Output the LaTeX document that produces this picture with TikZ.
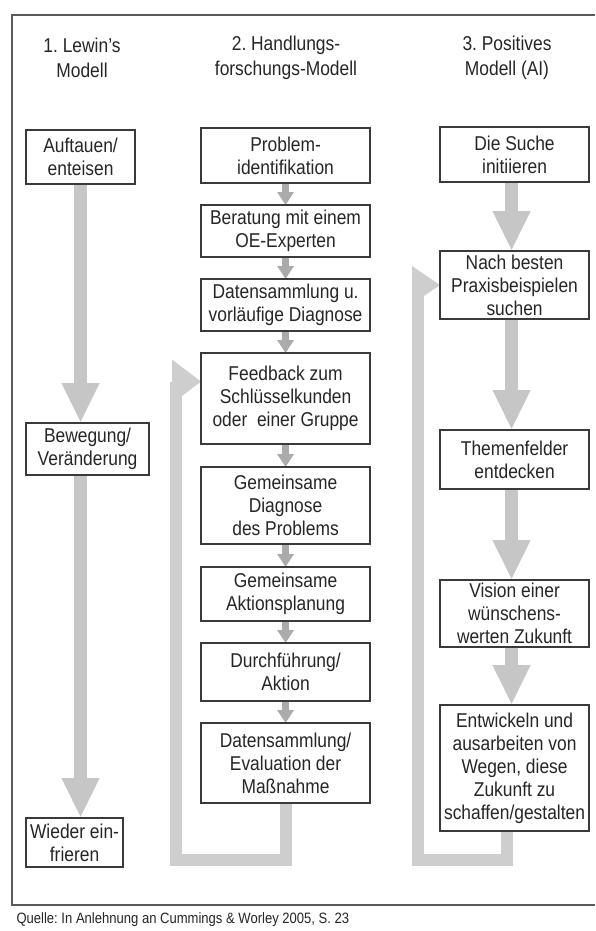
\documentclass[tikz,border=0pt]{standalone}
\usepackage{fontspec}
\setmainfont{Liberation Sans}[FakeStretch=0.87]
\usetikzlibrary{arrows.meta,calc}
\frenchspacing
\definecolor{ink}{HTML}{262626}
\definecolor{framecol}{HTML}{5A5A5A}
\definecolor{boxline}{HTML}{3A3A3A}
\definecolor{bigarrow}{HTML}{C6C6C6}
\definecolor{smallarrow}{HTML}{ABABAB}
\definecolor{loopgray}{HTML}{CECECE}
\begin{document}
\begin{tikzpicture}[x=1pt,y=-1pt,
  box/.style={draw=boxline, line width=1.1pt, fill=white, text=ink, align=center,
    font=\fontsize{20}{23}\selectfont, inner sep=0pt, anchor=north west},
  colhead/.style={text=ink, align=center, font=\fontsize{20}{25}\selectfont},
  bigflow/.style={draw=bigarrow, line width=13pt, -{Triangle[width=35pt,length=40pt]}},
  smallflow/.style={draw=smallarrow, line width=7pt, -{Triangle[width=16pt,length=13pt]}},
  loopline/.style={draw=loopgray, line width=12pt, line join=miter},
  loophead/.style={fill=loopgray},
]
\useasboundingbox (0,0) rectangle (595,931);
\fill[white] (0,0) rectangle (595,931);

% outer frame and source line
\draw[framecol, line width=1.1pt] (595,15) -- (12,15) -- (12,905) -- (595,905);
\node[anchor=west, text=ink, font=\fontsize{15}{17}\selectfont] (src) at (13,920)
  {Quelle: In Anlehnung an Cummings \& Worley 2005, S. 23};

% column headings
\node[colhead] (h1) at (82,58) {1. Lewin's\\Modell};
\node[colhead] (h2) at (286,58) {2. Handlungs-\\forschungs-Modell};
\node[colhead] (h3) at (507,58) {3. Positives\\Modell (AI)};

% column 1: Lewin
\node[box, minimum width=108pt, minimum height=53pt] (l1) at (26,130) {Auftauen/\\enteisen};
\node[box, minimum width=122pt, minimum height=51pt] (l2) at (26,423) {Bewegung/\\Veränderung};
\node[box, minimum width=96pt, minimum height=48pt] (l3) at (26,818) {Wieder ein-\\frieren};

% column 2: action research
\node[box, minimum width=168pt, minimum height=54pt] (p1) at (201,128) {Problem-\\identifikation};
\node[box, minimum width=168pt, minimum height=51pt] (p2) at (201,205) {Beratung mit einem\\OE-Experten};
\node[box, minimum width=168pt, minimum height=51pt] (p3) at (201,279) {Datensammlung u.\\vorläufige Diagnose};
\node[box, minimum width=168pt, minimum height=90pt] (p4) at (201,353) {Feedback zum\\Schlüsselkunden\\oder~ einer Gruppe};
\node[box, minimum width=168pt, minimum height=76pt] (p5) at (201,467) {Gemeinsame\\Diagnose\\des Problems};
\node[box, minimum width=168pt, minimum height=53pt] (p6) at (201,567) {Gemeinsame\\Aktionsplanung};
\node[box, minimum width=168pt, minimum height=57pt] (p7) at (201,643) {Durchführung/\\Aktion};
\node[box, minimum width=168pt, minimum height=79pt] (p8) at (201,723) {Datensammlung/\\Evaluation der\\Maßnahme};

% column 3: appreciative inquiry
\node[box, minimum width=148pt, minimum height=54pt] (a1) at (440,127) {Die Suche\\initiieren};
\node[box, minimum width=148pt, minimum height=67pt] (a2) at (440,251) {Nach besten\\Praxisbeispielen\\suchen};
\node[box, minimum width=148pt, minimum height=58pt] (a3) at (440,430) {Themenfelder\\entdecken};
\node[box, minimum width=148pt, minimum height=66pt] (a4) at (440,580) {Vision einer\\wünschens-\\werten Zukunft};
\node[box, minimum width=148pt, minimum height=125pt] (a5) at (440,705) {Entwickeln und\\ausarbeiten von\\Wegen, diese\\Zukunft zu\\schaffen/gestalten};

% feedback loops
\coordinate (c2bot) at ($(p8.south)+(0,57)$);
\coordinate (c2top) at ($(p4.west)+(-25,-17)$);
\draw[loopline] (p8.south) -- (c2bot) -| (c2top);
\fill[loophead] ($(p4.west)+(0,-17)$) -- ++(-29,-22) -- ++(0,44) -- cycle;

\coordinate (c3out) at ($(a5.south)+(-8,0)$);
\coordinate (c3bot) at ($(c3out)+(0,29)$);
\coordinate (c3top) at ($(a2.west)+(-22,6)$);
\draw[loopline] (c3out) -- (c3bot) -| (c3top);
\fill[loophead] (a2.west) -- ++(-28,-19) -- ++(0,38) -- cycle;

% Lewin arrows
\draw[bigflow] (l1.south) -- (l1.south |- l2.north);
\draw[bigflow] (l2.south -| l1.south) -- (l3.north -| l1.south);

% action research steps
\draw[smallflow] (p1.south) -- (p2.north);
\draw[smallflow] (p2.south) -- (p3.north);
\draw[smallflow] (p3.south) -- (p4.north);
\draw[smallflow] (p4.south) -- (p5.north);
\draw[smallflow] (p5.south) -- (p6.north);
\draw[smallflow] (p6.south) -- (p7.north);
\draw[smallflow] (p7.south) -- (p8.north);

% AI steps
\draw[bigflow] ($(a1.south)+(-3,0)$) -- ($(a2.north)+(-3,0)$);
\draw[bigflow] ($(a2.south)+(-3,0)$) -- ($(a3.north)+(-3,0)$);
\draw[bigflow] ($(a3.south)+(-3,0)$) -- ($(a4.north)+(-3,0)$);
\draw[bigflow] ($(a4.south)+(-3,0)$) -- ($(a5.north)+(-3,0)$);

% box outlines stay on top of the arrow shafts
\foreach \n in {l1,l2,l3,p1,p2,p3,p4,p5,p6,p7,p8,a1,a2,a3,a4,a5}
  \draw[boxline, line width=1.1pt] (\n.north west) rectangle (\n.south east);
\end{tikzpicture}
\end{document}
